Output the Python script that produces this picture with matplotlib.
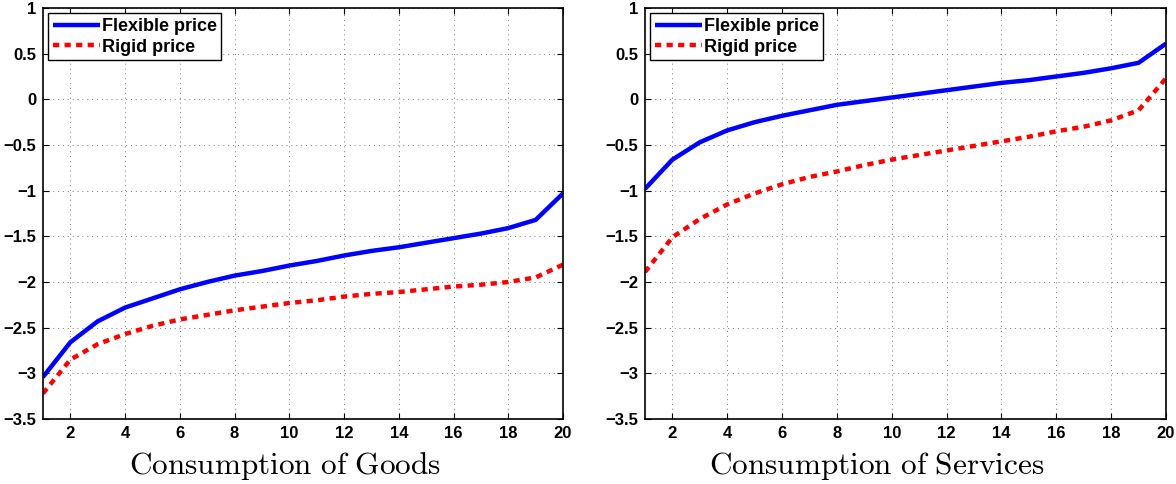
import matplotlib
matplotlib.use("Agg")
import matplotlib.pyplot as plt

x = list(range(1, 21))

goods_flexible = [-3.04, -2.66, -2.43, -2.28, -2.18, -2.08, -2.00, -1.93, -1.88, -1.82,
                  -1.77, -1.71, -1.66, -1.62, -1.57, -1.52, -1.47, -1.41, -1.32, -1.03]
goods_rigid = [-3.22, -2.85, -2.68, -2.57, -2.48, -2.41, -2.36, -2.31, -2.27, -2.23,
               -2.20, -2.16, -2.13, -2.11, -2.08, -2.05, -2.03, -2.00, -1.95, -1.81]
services_flexible = [-0.98, -0.66, -0.47, -0.34, -0.25, -0.18, -0.12, -0.06, -0.02, 0.02,
                     0.06, 0.10, 0.14, 0.18, 0.21, 0.25, 0.29, 0.34, 0.40, 0.61]
services_rigid = [-1.89, -1.51, -1.31, -1.15, -1.03, -0.93, -0.85, -0.79, -0.72, -0.66,
                  -0.61, -0.56, -0.51, -0.46, -0.41, -0.35, -0.30, -0.23, -0.12, 0.23]

titles = ["Consumption of Goods", "Consumption of Services"]
legend_labels = ["Flexible price", "Rigid price"]
xticks = [2, 4, 6, 8, 10, 12, 14, 16, 18, 20]
yticks = [-3.5, -3, -2.5, -2, -1.5, -1, -0.5, 0, 0.5, 1]
yticklabels = ["\u22123.5", "\u22123", "\u22122.5", "\u22122", "\u22121.5", "\u22121",
               "\u22120.5", "0", "0.5", "1"]

plt.rcParams['font.family'] = ['Liberation Sans', 'DejaVu Sans']
plt.rcParams['mathtext.fontset'] = 'cm'

fig = plt.figure(figsize=(11.76, 4.84), dpi=100)
positions = [[43/1176, 65/484, 520/1176, 411/484],
             [645/1176, 65/484, 521/1176, 411/484]]
label_x = [0.465, 0.445]
data = [(goods_flexible, goods_rigid), (services_flexible, services_rigid)]

for pos, (flex, rig), title, lx in zip(positions, data, titles, label_x):
    ax = fig.add_axes(pos)
    ax.plot(x, flex, color='#0000ff', lw=3.2, solid_capstyle='butt', label=legend_labels[0])
    ax.plot(x, rig, color='#ff0000', lw=3.2, linestyle=(0, (1.4, 1.2)), label=legend_labels[1])
    ax.set_xlim(1, 20)
    ax.set_ylim(-3.5, 1)
    ax.set_xticks(xticks)
    ax.set_yticks(yticks)
    ax.set_yticklabels(yticklabels)
    ax.tick_params(direction='in', top=True, right=True, length=4, width=0.8,
                   labelsize=12, pad=5)
    for lab in ax.get_xticklabels() + ax.get_yticklabels():
        lab.set_fontweight('bold')
    ax.grid(True, linestyle=(0, (1, 4)), color='#777777', linewidth=0.7)
    for s in ax.spines.values():
        s.set_linewidth(1.2)
    ax.set_xlabel(r'$\mathrm{' + title.replace(' ', r'\ ') + '}$', fontsize=22.5)
    ax.xaxis.set_label_coords(lx, -0.133)
    ax.xaxis.label.set_va('baseline')
    leg = ax.legend(loc='upper left', prop={'weight': 'bold', 'size': 13},
                    fancybox=False, edgecolor='black', framealpha=1,
                    borderpad=0.25, handlelength=2.6, handletextpad=0.1,
                    labelspacing=0.2, borderaxespad=0.3)
    leg.get_frame().set_linewidth(1.0)

fig.savefig('out.png', dpi=100)
